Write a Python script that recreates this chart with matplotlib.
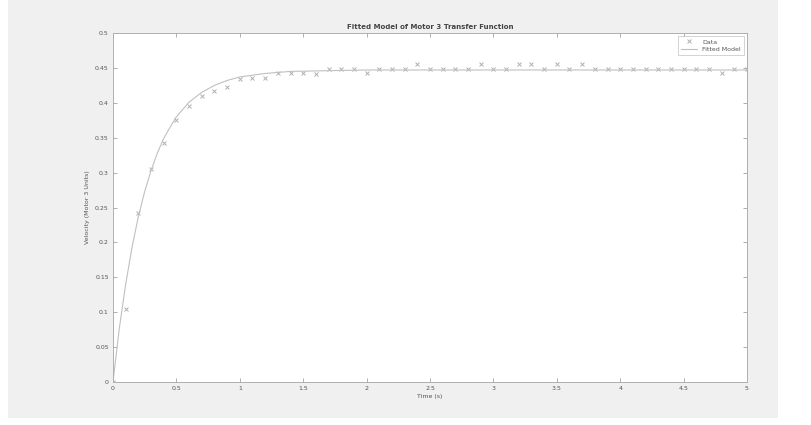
import numpy as np
import matplotlib
matplotlib.use('Agg')
import matplotlib.pyplot as plt
from matplotlib.patches import Rectangle

# medidas (tempo em s, velocidade)
t_data = np.round(np.arange(0, 5.01, 0.1), 2)
v_data = [0.0, 0.105, 0.242, 0.305, 0.343, 0.375, 0.396, 0.410, 0.417, 0.422,
          0.434, 0.436, 0.436, 0.442, 0.442, 0.442, 0.441, 0.448, 0.448, 0.448,
          0.443, 0.448, 0.448, 0.448, 0.455, 0.448, 0.448, 0.448, 0.448, 0.455,
          0.448, 0.448, 0.455, 0.455, 0.448, 0.455, 0.448, 0.455, 0.448, 0.448,
          0.448, 0.448, 0.448, 0.448, 0.448, 0.448, 0.448, 0.448, 0.443, 0.448,
          0.448]

# curva do modelo ajustado
t_fit = [0, 0.05, 0.1, 0.15, 0.2, 0.25, 0.3, 0.35, 0.4, 0.45, 0.5, 0.6, 0.7,
         0.8, 0.9, 1.0, 1.2, 1.4, 1.7, 2.0, 3.0, 4.0, 5.0]
v_fit = [0, 0.077, 0.140, 0.193, 0.237, 0.273, 0.303, 0.328, 0.349, 0.365,
         0.380, 0.401, 0.415, 0.425, 0.432, 0.437, 0.442, 0.445, 0.446, 0.447,
         0.447, 0.447, 0.447]

xticks = [0, 0.5, 1, 1.5, 2, 2.5, 3, 3.5, 4, 4.5, 5]
yticks = [0, 0.05, 0.1, 0.15, 0.2, 0.25, 0.3, 0.35, 0.4, 0.45, 0.5]

fig = plt.figure(figsize=(8.12, 4.25), dpi=100)
fig.patch.set_facecolor('white')
fig.patches.append(Rectangle((8/812, 7/425), 770/812, 418/425, transform=fig.transFigure,
                             facecolor='#f0f0f0', edgecolor='none', zorder=-10))

ax = fig.add_axes([113/812, 1-382/425, 634/812, 349/425])
ax.set_facecolor('white')

ax.plot(t_data, v_data, 'x', color='#b0b0b0', markersize=3, markeredgewidth=0.7, label='Data')
ax.plot(t_fit, v_fit, '-', color='#c0c0c0', linewidth=0.8, label='Fitted Model')

ax.set_xlim(0, 5)
ax.set_ylim(0, 0.5)
ax.set_xticks(xticks)
ax.set_xticklabels([f'{x:g}' for x in xticks])
ax.set_yticks(yticks)
ax.set_yticklabels([f'{y:g}' for y in yticks])
ax.tick_params(direction='in', top=True, right=True, labelsize=4.5, length=3,
               width=0.6, colors='#a0a0a0', labelcolor='#555555', pad=3)
for s in ax.spines.values():
    s.set_color('#b0b0b0')
    s.set_linewidth(0.7)

ax.set_title('Fitted Model of Motor 3 Transfer Function', fontsize=5, fontweight='semibold',
             color='#444444', pad=3)
ax.set_xlabel('Time (s)', fontsize=4.5, color='#555555', labelpad=2)
ax.set_ylabel('Velocity (Motor 3 Units)', fontsize=4.5, color='#555555', labelpad=4)

leg = ax.legend(loc='upper right', fontsize=4.5, frameon=True, fancybox=False,
                edgecolor='#c0c0c0', borderpad=0.5, handlelength=2.5, labelspacing=0.3,
                borderaxespad=0.5)
leg.get_frame().set_linewidth(0.6)
for txt in leg.get_texts():
    txt.set_color('#555555')

plt.savefig('out.png', dpi=100, facecolor=fig.get_facecolor())
